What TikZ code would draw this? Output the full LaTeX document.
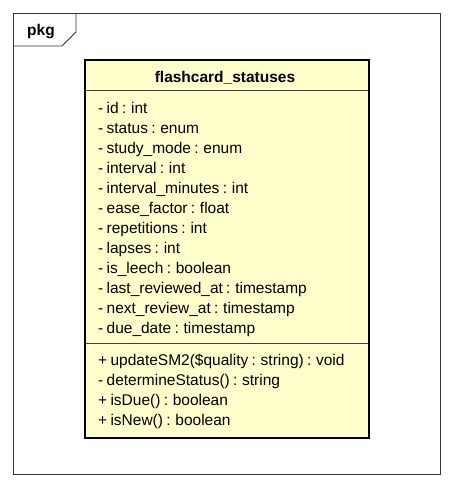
\documentclass[tikz,border=0pt]{standalone}
\usepackage{fontspec}
\setmainfont{Liberation Sans}
\newcommand\memfont{\fontsize{15.5}{16}\selectfont\spaceskip=3.3pt\relax}
\begin{document}
\begin{tikzpicture}[x=1pt,y=-1pt,
  frame/.style={draw=black!80, line width=0.8pt},
  member/.style={anchor=base west, inner sep=0pt, font=\memfont},
  title/.style={anchor=base, inner sep=0pt, font=\bfseries\fontsize{15.5}{16}\selectfont}]
\useasboundingbox (0,0) rectangle (453,488);
% package frame
\draw[frame] (13,13) rectangle (440,474);
\draw[frame] (13,46) -- (62,46) -- (76,32) -- (76,13);
\node[title, anchor=base west] (pkg) at (27,35) {pkg};
% class box
\fill[fill={rgb,255:red,255;green,255;blue,204}] (85,60) rectangle (369,438);
\draw[black!75, line width=0.8pt] (85,90) -- (369,90);
\draw[black!75, line width=0.8pt] (85,343) -- (369,343);
\draw[black, line width=2.4pt] (85,60) rectangle (369,438);
\node[title] (cls) at (225,82) {flashcard\_statuses};
\foreach \t [count=\i from 0] in {- id : int, - status : enum, - study\_mode : enum, - interval : int, - interval\_minutes : int, - ease\_factor : float, - repetitions : int, - lapses : int, - is\_leech : boolean, - last\_reviewed\_at : timestamp, - next\_review\_at : timestamp, - due\_date : timestamp}
  \node[member] (a\i) at (98,{113+20*\i}) {\t};
\foreach \t [count=\i from 0] in {+ updateSM2(\$quality : string) : void, - determineStatus() : string, + isDue() : boolean, + isNew() : boolean}
  \node[member] (m\i) at (98,{365+20*\i}) {\t};
\end{tikzpicture}
\end{document}
